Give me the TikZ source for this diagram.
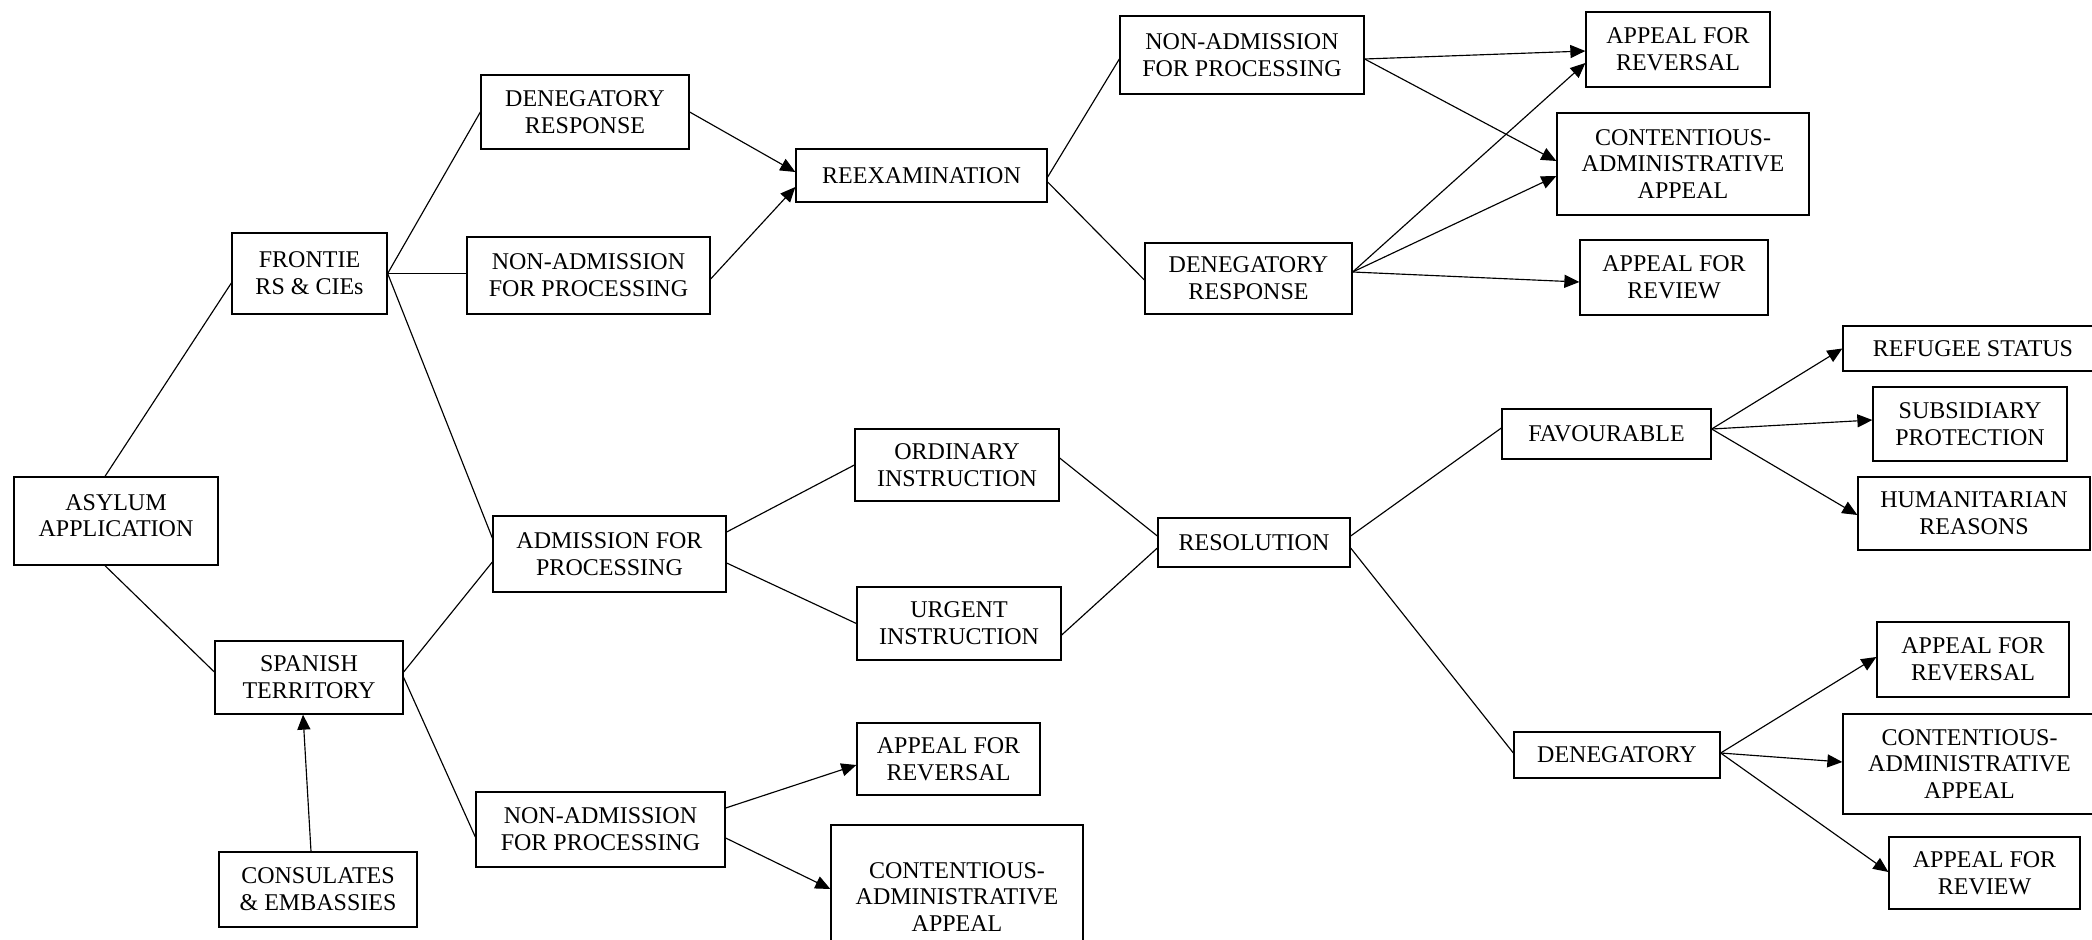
\documentclass[tikz,border=0pt]{standalone}
\usepackage{fontspec}
\setmainfont{Liberation Serif}
\usetikzlibrary{arrows.meta}
\begin{document}
\begin{tikzpicture}[x=1pt,y=-1pt,
  box/.style={draw, line width=1.3pt, align=center, inner sep=0pt, font=\fontsize{24}{26.8}\selectfont},
  ln/.style={line width=1.15pt},
  arr/.style={ln, -{Triangle[length=15pt,width=13pt]}}]
\useasboundingbox (0,0) rectangle (2092,939);
\clip (0,0) rectangle (2092,939);
% nodes
\node[box, minimum width=204pt, minimum height=88pt] (asy) at (116,521) {ASYLUM\\APPLICATION\\[-16pt]\mbox{}};
\node[box, minimum width=155pt, minimum height=81pt] (fro) at (309.5,273.5) {FRONTIE\\RS \& CIEs};
\node[box, minimum width=188pt, minimum height=73pt] (spa) at (309,677.5) {SPANISH\\TERRITORY};
\node[box, minimum width=198pt, minimum height=75pt] (con) at (318,889.5) {CONSULATES\\\& EMBASSIES};
\node[box, minimum width=208pt, minimum height=74pt] (dra) at (585,112) {DENEGATORY\\RESPONSE};
\node[box, minimum width=243pt, minimum height=77pt] (naa) at (588.5,275.5) {NON-ADMISSION\\FOR PROCESSING};
\node[box, minimum width=233pt, minimum height=76pt] (adm) at (609.5,554) {ADMISSION FOR\\PROCESSING};
\node[box, minimum width=249pt, minimum height=75pt] (nac) at (600.5,829.5) {NON-ADMISSION\\FOR PROCESSING};
\node[box, minimum width=251pt, minimum height=53pt] (ree) at (921.5,175.5) {REEXAMINATION};
\node[box, minimum width=244pt, minimum height=78pt] (nab) at (1242,55) {NON-ADMISSION\\FOR PROCESSING};
\node[box, minimum width=207pt, minimum height=71pt] (drb) at (1248.5,278.5) {DENEGATORY\\RESPONSE};
\node[box, minimum width=184pt, minimum height=75pt] (ara) at (1678,49.5) {APPEAL FOR\\REVERSAL};
\node[box, minimum width=252pt, minimum height=102pt] (caa) at (1683,164) {CONTENTIOUS-\\ADMINISTRATIVE\\APPEAL};
\node[box, minimum width=188pt, minimum height=75pt] (rva) at (1674,277.5) {APPEAL FOR\\REVIEW};
\node[box, minimum width=204pt, minimum height=72pt] (ord) at (957,465) {ORDINARY\\INSTRUCTION};
\node[box, minimum width=204pt, minimum height=73pt] (urg) at (959,623.5) {URGENT\\INSTRUCTION};
\node[box, minimum width=192pt, minimum height=49pt] (res) at (1254,542.5) {RESOLUTION};
\node[box, minimum width=183pt, minimum height=72pt] (arb) at (948.5,759) {APPEAL FOR\\REVERSAL};
\node[box, minimum width=252pt, minimum height=144pt] (cab) at (957,897) {CONTENTIOUS-\\ADMINISTRATIVE\\APPEAL};
\node[box, minimum width=209pt, minimum height=50pt] (fav) at (1606.5,434) {FAVOURABLE};
\node[box, minimum width=206pt, minimum height=46pt] (den) at (1617,755) {DENEGATORY};
\node[box, minimum width=260pt, minimum height=45pt] (ref) at (1973,348.5) {REFUGEE STATUS};
\node[box, minimum width=194pt, minimum height=74pt] (sub) at (1970,424) {SUBSIDIARY\\PROTECTION};
\node[box, minimum width=232pt, minimum height=73pt] (hum) at (1974,513.5) {HUMANITARIAN\\REASONS};
\node[box, minimum width=192pt, minimum height=75pt] (arc) at (1973,659.5) {APPEAL FOR\\REVERSAL};
\node[box, minimum width=253pt, minimum height=100pt] (cac) at (1969.5,764) {CONTENTIOUS-\\ADMINISTRATIVE\\APPEAL};
\node[box, minimum width=191pt, minimum height=72pt] (rvc) at (1984.5,873) {APPEAL FOR\\REVIEW};
% plain connectors
\draw[ln] ([xshift=-11pt]asy.north) -- ([yshift=-9.5pt]fro.west);
\draw[ln] ([xshift=-11pt]asy.south) -- ([yshift=5.5pt]spa.west);
\draw[ln] (fro.east) -- (dra.west);
\draw[ln] (fro.east) -- (fro.east -| naa.west);
\draw[ln] (fro.east) -- ([yshift=16pt]adm.west);
\draw[ln] ([yshift=5.5pt]spa.east) -- ([yshift=-8pt]adm.west);
\draw[ln] (spa.east) -- ([yshift=-7.5pt]nac.west);
\draw[ln] ([yshift=-1.5pt]ree.east) -- ([yshift=-4pt]nab.west);
\draw[ln] ([yshift=-6.5pt]ree.east) -- ([yshift=-1.5pt]drb.west);
\draw[ln] ([yshift=22pt]adm.east) -- (ord.west);
\draw[ln] ([yshift=-9pt]adm.east) -- (urg.west);
\draw[ln] ([yshift=7pt]ord.east) -- ([yshift=6.5pt]res.west);
\draw[ln] ([yshift=-11.5pt]urg.east) -- ([yshift=-5.5pt]res.west);
\draw[ln] ([yshift=6.5pt]res.east) -- ([yshift=6pt]fav.west);
\draw[ln] ([yshift=-5.5pt]res.east) -- ([yshift=2pt]den.west);
% arrows
\draw[arr] ([xshift=-7pt]con.north) -- ([xshift=-6pt]spa.south);
\draw[arr] (dra.east) -- ([yshift=3.5pt]ree.west);
\draw[arr] ([yshift=-3.5pt]naa.east) -- ([yshift=-11.5pt]ree.west);
\draw[arr] ([yshift=-4pt]nab.east) -- ([yshift=-1.5pt]ara.west);
\draw[arr] ([yshift=-4pt]nab.east) -- ([yshift=3pt]caa.west);
\draw[arr] ([yshift=6.5pt]drb.east) -- ([yshift=-13.5pt]ara.west);
\draw[arr] ([yshift=6.5pt]drb.east) -- ([yshift=-12pt]caa.west);
\draw[arr] ([yshift=6.5pt]drb.east) -- ([yshift=-4.5pt]rva.west);
\draw[arr] ([yshift=21.5pt]nac.east) -- ([yshift=-6pt]arb.west);
\draw[arr] ([yshift=-8.5pt]nac.east) -- ([yshift=8pt]cab.west);
\draw[arr] ([yshift=5pt]fav.east) -- (ref.west);
\draw[arr] ([yshift=5pt]fav.east) -- ([yshift=4pt]sub.west);
\draw[arr] ([yshift=5pt]fav.east) -- ([yshift=-1.5pt]hum.west);
\draw[arr] ([yshift=2pt]den.east) -- ([yshift=2.5pt]arc.west);
\draw[arr] ([yshift=2pt]den.east) -- ([yshift=2pt]cac.west);
\draw[arr] ([yshift=2pt]den.east) -- ([yshift=1pt]rvc.west);
\end{tikzpicture}
\end{document}
